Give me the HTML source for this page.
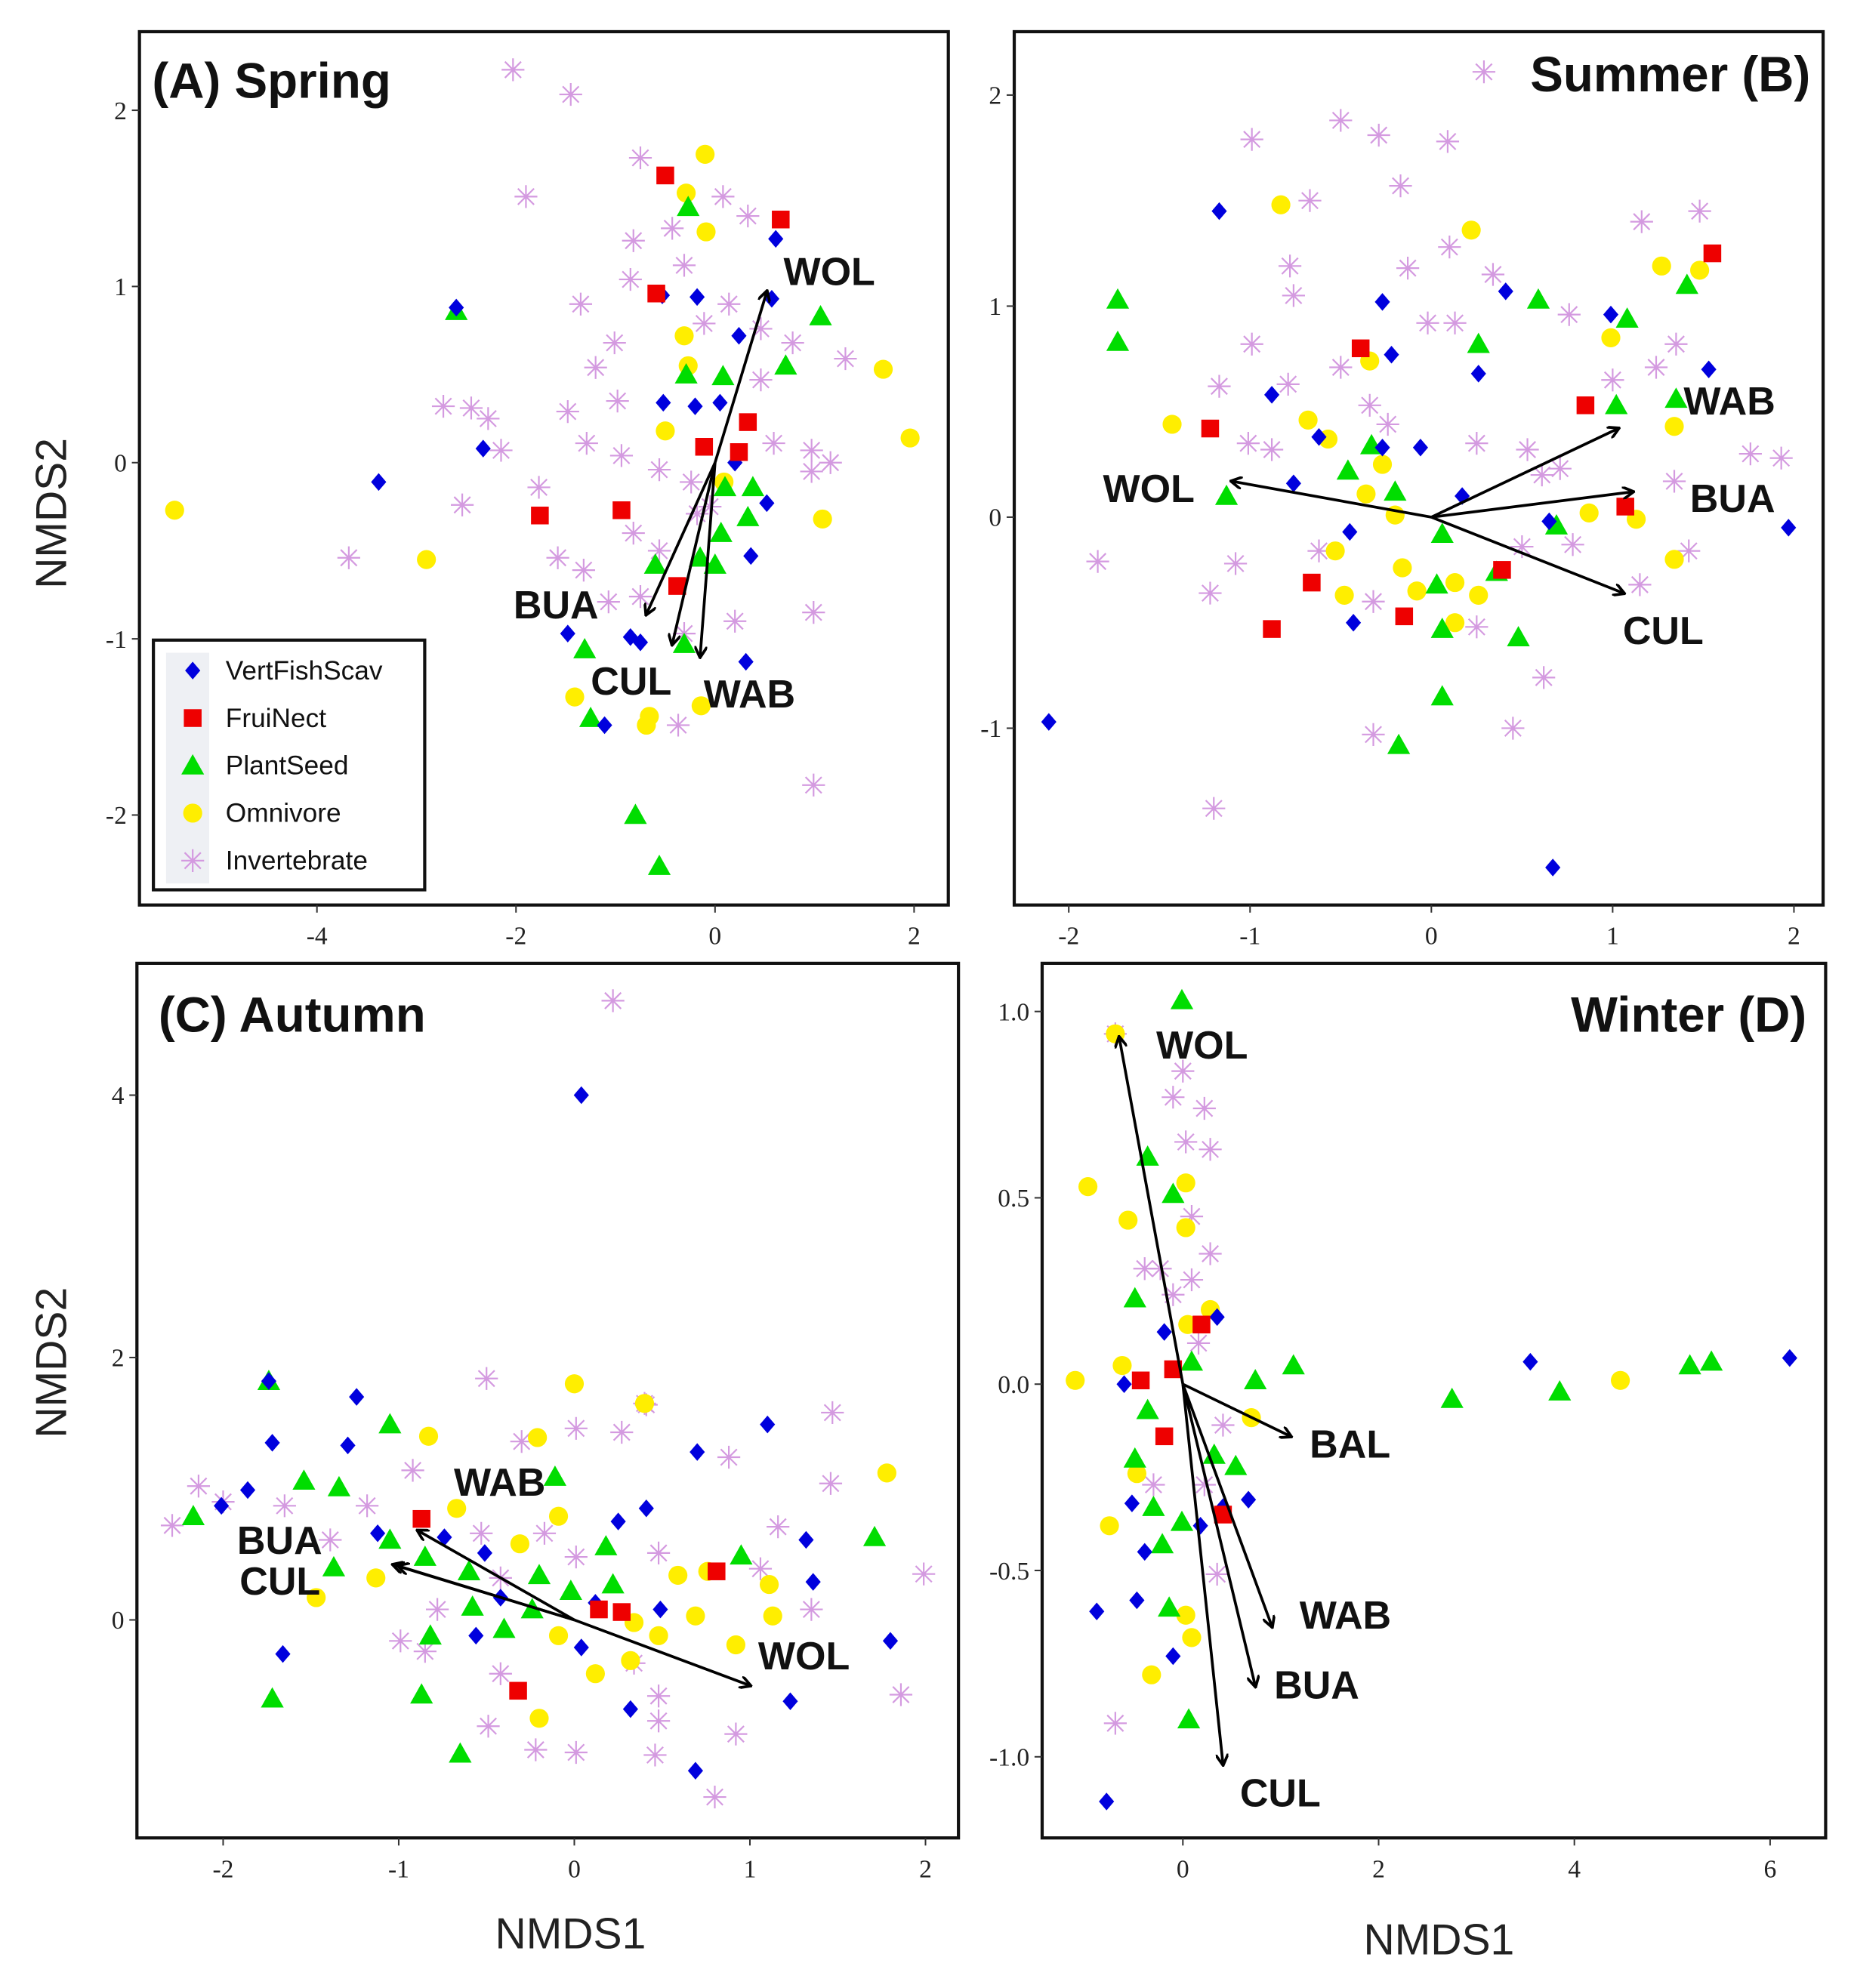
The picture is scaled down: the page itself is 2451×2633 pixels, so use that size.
<!DOCTYPE html>
<html><head><meta charset="utf-8"><style>
html,body{margin:0;padding:0;background:#fff}
svg{display:block}
.tick{font-family:"Liberation Serif",serif;font-size:20px;fill:#222}
.axt{font-family:"Liberation Sans",sans-serif;font-size:34px;fill:#222}
.ttl{font-family:"Liberation Sans",sans-serif;font-size:39px;font-weight:bold;fill:#111}
.vlab{font-family:"Liberation Sans",sans-serif;font-size:31px;font-weight:bold;fill:#111}
.leg{font-family:"Liberation Sans",sans-serif;font-size:21px;fill:#111}
</style></head><body>
<svg id="fig" width="2451" height="2633" viewBox="0 0 1460 1568.4" preserveAspectRatio="none" xmlns="http://www.w3.org/2000/svg"></svg>
<script>
// ---- Panel A (Spring) data ----
const A_vert=[[-2.6,0.88],[-3.38,-0.11],[-2.33,0.08],[0.61,1.27],[-0.53,0.95],[-0.18,0.94],[0.24,0.72],[-0.52,0.34],[-0.2,0.32],[0.05,0.34],[0.2,0],[0.52,-0.23],[0.36,-0.53],[-1.48,-0.97],[-0.85,-0.99],[-0.75,-1.02],[0.31,-1.13],[-1.11,-1.49],[0.57,0.93]];
const A_frui=[[-0.5,1.63],[0.66,1.38],[-0.59,0.96],[-0.11,0.09],[0.24,0.06],[-1.76,-0.3],[-0.94,-0.27],[-0.38,-0.7],[0.33,0.23]];
const A_plant=[[-0.27,1.45],[1.06,0.83],[0.71,0.55],[-0.29,0.5],[0.08,0.49],[0.1,-0.14],[0.38,-0.14],[0.33,-0.31],[0.06,-0.4],[-0.15,-0.54],[-0.6,-0.58],[0,-0.58],[-1.31,-1.06],[-0.31,-1.03],[-0.8,-2],[-0.56,-2.29],[-2.6,0.86],[-1.25,-1.45]];
const A_omni=[[-5.43,-0.27],[-2.9,-0.55],[-0.29,1.53],[-0.09,1.31],[-0.31,0.72],[-0.27,0.55],[-0.5,0.18],[0.09,-0.11],[1.08,-0.32],[1.69,0.53],[1.96,0.14],[-0.66,-1.44],[-0.69,-1.49],[-1.41,-1.33],[-0.14,-1.38],[-0.1,1.75]];
const A_inv=[[-2.03,2.23],[-1.45,2.09],[-1.9,1.51],[-0.75,1.73],[0.08,1.51],[0.33,1.4],[-0.82,1.26],[-0.43,1.33],[-1.35,0.9],[-0.85,1.04],[-0.11,0.79],[0.46,0.76],[0.78,0.68],[1.31,0.59],[-2.73,0.32],[-2.45,0.31],[-2.28,0.25],[-2.15,0.07],[-1.48,0.29],[-0.98,0.35],[-1.29,0.11],[-0.94,0.04],[-0.56,-0.04],[-0.24,-0.11],[0.59,0.11],[0.97,0.07],[1.16,0],[-1.77,-0.14],[-2.54,-0.24],[-1.58,-0.54],[-1.32,-0.61],[-1.07,-0.79],[-0.75,-0.76],[-0.56,-0.5],[-0.18,-0.29],[-0.82,-0.4],[-3.68,-0.54],[-0.31,-0.97],[-0.37,-1.49],[0.99,-0.85],[0.99,-1.83],[0.2,-0.9],[-0.05,-0.25],[0.46,0.47],[-1.2,0.54],[-1.01,0.68],[-0.31,1.12],[0.14,0.9],[0.97,-0.05]];
const A_vecNames=["WOL","BUA","CUL","WAB"];
const A_vecs=[[0.52,0.97],[-0.69,-0.86],[-0.43,-1.03],[-0.15,-1.1]];
const A_xticks=[-4,-2,0,2], A_yticks=[-2,-1,0,1,2];
// ---- Panel B (Summer) data ----
const B_vert=[[-1.17,1.45],[-0.27,1.02],[-0.22,0.77],[0.41,1.07],[0.99,0.96],[0.26,0.68],[-0.88,0.58],[-0.62,0.38],[-0.27,0.33],[-0.06,0.33],[-0.76,0.16],[0.17,0.1],[-0.45,-0.07],[-0.43,-0.5],[0.65,-0.02],[1.53,0.7],[1.97,-0.05],[-2.11,-0.97],[0.67,-1.66]];
const B_frui=[[1.55,1.25],[-0.39,0.8],[-1.22,0.42],[0.85,0.53],[1.07,0.05],[-0.66,-0.31],[-0.88,-0.53],[-0.15,-0.47],[0.39,-0.25]];
const B_plant=[[-1.73,1.03],[-1.73,0.83],[0.26,0.82],[0.59,1.03],[1.08,0.94],[1.41,1.1],[1.02,0.53],[1.35,0.56],[-1.13,0.1],[-0.46,0.22],[-0.33,0.34],[-0.2,0.12],[0.06,-0.08],[0.03,-0.32],[0.06,-0.53],[0.06,-0.85],[-0.18,-1.08],[0.36,-0.26],[0.48,-0.57],[0.69,-0.04]];
const B_omni=[[-0.83,1.48],[0.22,1.36],[1.27,1.19],[1.48,1.17],[0.99,0.85],[-0.34,0.74],[-0.27,0.25],[-1.43,0.44],[-0.68,0.46],[-0.57,0.37],[-0.36,0.11],[-0.2,0.01],[0.87,0.02],[1.13,-0.01],[1.34,0.43],[1.34,-0.2],[-0.53,-0.16],[-0.48,-0.37],[-0.16,-0.24],[-0.08,-0.35],[0.13,-0.31],[0.26,-0.37],[0.13,-0.5]];
const B_inv=[[0.29,2.11],[-0.99,1.79],[-0.5,1.88],[-0.29,1.81],[0.09,1.78],[-0.67,1.5],[-0.17,1.57],[-0.78,1.19],[0.1,1.28],[1.16,1.4],[1.48,1.45],[-0.76,1.05],[-0.13,1.18],[0.34,1.15],[-0.02,0.92],[0.13,0.92],[0.76,0.96],[-0.99,0.82],[-0.79,0.63],[-0.5,0.71],[-0.34,0.53],[-1.17,0.62],[-0.24,0.44],[-1.01,0.35],[-0.88,0.32],[0.25,0.35],[0.53,0.32],[0.71,0.23],[1.0,0.65],[1.24,0.71],[1.35,0.82],[1.76,0.3],[1.93,0.28],[1.34,0.17],[1.42,-0.16],[1.15,-0.32],[0.5,-0.14],[0.61,0.2],[-1.08,-0.22],[-1.22,-0.36],[-1.84,-0.21],[-0.62,-0.16],[-0.32,-0.4],[0.25,-0.52],[0.62,-0.76],[0.45,-1.0],[-0.32,-1.03],[-1.2,-1.38],[0.78,-0.13]];
const B_vecNames=["WOL","WAB","BUA","CUL"];
const B_vecs=[[-1.1,0.17],[1.03,0.42],[1.11,0.12],[1.06,-0.36]];
const B_xticks=[-2,-1,0,1,2], B_yticks=[-1,0,1,2];
// ---- Panel C (Autumn) data ----
const C_vert=[[0.04,4.0],[-1.74,1.82],[-1.24,1.7],[-1.29,1.33],[-1.72,1.35],[-1.86,0.99],[-2.01,0.87],[-1.12,0.66],[-0.74,0.63],[-0.51,0.51],[-1.66,-0.26],[-0.42,0.17],[-0.56,-0.12],[0.04,-0.21],[0.25,0.75],[0.41,0.85],[0.7,1.28],[1.1,1.49],[1.32,0.61],[1.36,0.29],[0.49,0.08],[0.32,-0.68],[0.69,-1.15],[1.23,-0.62],[1.8,-0.16],[0.12,0.13]];
const C_frui=[[-0.87,0.77],[0.81,0.37],[0.14,0.08],[0.27,0.06],[-0.32,-0.54]];
const C_plant=[[-1.74,1.82],[-2.17,0.79],[-1.54,1.06],[-1.34,1.01],[-1.37,0.4],[-1.72,-0.6],[-1.05,1.49],[-1.05,0.61],[-0.85,0.48],[-0.6,0.37],[-0.2,0.34],[-0.11,1.09],[-0.58,0.1],[-0.4,-0.07],[-0.24,0.08],[-0.02,0.22],[0.18,0.56],[0.22,0.27],[-0.82,-0.12],[-0.87,-0.57],[-0.65,-1.02],[0.95,0.49],[1.71,0.63]];
const C_omni=[[0,1.8],[-0.83,1.4],[-0.21,1.39],[-0.67,0.85],[-0.31,0.58],[-1.47,0.17],[-1.13,0.32],[-0.09,0.79],[0.34,-0.02],[0.59,0.34],[0.69,0.03],[0.92,-0.19],[1.11,0.27],[1.13,0.03],[1.78,1.12],[0.12,-0.41],[0.32,-0.31],[-0.2,-0.75],[0.48,-0.12],[0.76,0.37],[-0.09,-0.12],[0.4,1.65]];
const C_inv=[[0.22,4.72],[-0.5,1.84],[-0.3,1.36],[0.01,1.46],[0.27,1.43],[0.41,1.64],[0.88,1.24],[1.47,1.58],[-2.29,0.72],[-2.14,1.02],[-2.0,0.9],[-1.65,0.87],[-1.18,0.87],[-0.92,1.14],[-1.39,0.61],[-0.78,0.08],[-0.99,-0.16],[-0.85,-0.24],[-0.42,-0.41],[-0.49,-0.81],[-0.22,-0.99],[0.01,-1.01],[0.46,-1.03],[0.48,-0.77],[0.8,-1.35],[0.92,-0.87],[0.48,-0.58],[1.46,1.04],[1.86,-0.57],[1.99,0.35],[1.16,0.71],[1.35,0.08],[1.06,0.39],[0.01,0.48],[-0.17,0.66],[0.48,0.51],[-0.42,0.32],[0.34,-0.33],[-0.53,0.66],[0.4,1.65]];
const C_vecNames=["WAB","BUA","CUL","WOL"];
const C_vecs=[[-0.89,0.68],[-1.03,0.42],[-1.0,0.41],[1.0,-0.5]];
const C_xticks=[-2,-1,0,1,2], C_yticks=[0,2,4];
// ---- Panel D (Winter) data ----
const D_vert=[[3.55,0.06],[6.2,0.07],[-0.19,0.14],[-0.6,0],[0.35,0.18],[-0.52,-0.32],[-0.39,-0.45],[-0.47,-0.58],[-0.88,-0.61],[-0.78,-1.12],[-0.1,-0.73],[0.67,-0.31],[0.18,-0.38],[0.41,-0.33]];
const D_frui=[[-0.43,0.01],[-0.1,0.04],[0.19,0.16],[-0.19,-0.14],[0.41,-0.35]];
const D_plant=[[-0.01,1.03],[-0.36,0.61],[-0.1,0.51],[-0.49,0.23],[0.09,0.06],[0.74,0.01],[1.13,0.05],[2.75,-0.04],[3.85,-0.02],[5.18,0.05],[5.4,0.06],[-0.36,-0.07],[-0.49,-0.2],[-0.3,-0.33],[-0.21,-0.43],[-0.01,-0.37],[-0.14,-0.6],[0.06,-0.9],[0.54,-0.22],[0.32,-0.19]];
const D_omni=[[-0.69,0.94],[-0.97,0.53],[-0.56,0.44],[0.03,0.54],[0.03,0.42],[0.28,0.2],[0.05,0.16],[-1.1,0.01],[-0.62,0.05],[4.47,0.01],[-0.47,-0.24],[-0.75,-0.38],[-0.32,-0.78],[0.03,-0.62],[0.09,-0.68],[0.7,-0.09]];
const D_inv=[[0.22,0.74],[0.03,0.65],[0.28,0.63],[0,0.84],[-0.1,0.77],[0.09,0.45],[0.28,0.35],[-0.23,0.31],[-0.1,0.24],[0.16,0.11],[-0.69,-0.91],[0.35,-0.51],[0.22,-0.27],[-0.3,-0.27],[-0.39,0.31],[0.09,0.28],[0.41,-0.11],[-0.69,0.94]];
const D_vecNames=["WOL","BAL","WAB","BUA","CUL"];
const D_vecs=[[-0.65,0.93],[1.1,-0.14],[0.91,-0.65],[0.74,-0.81],[0.41,-1.02]];
const D_xticks=[0,2,4,6], D_yticks=[-1.0,-0.5,0.0,0.5,1.0];

const NS="http://www.w3.org/2000/svg";
const svg=document.getElementById('fig');
function mk(tag,attrs,parent){const e=document.createElementNS(NS,tag);for(const k in attrs)e.setAttribute(k,attrs[k]);(parent||svg).appendChild(e);return e;}
const defs=mk('defs',{});
const mrk=mk('marker',{id:'ah',markerWidth:'10',markerHeight:'10',refX:'8',refY:'5',orient:'auto',markerUnits:'userSpaceOnUse'},defs);
mk('path',{d:'M0,0 L9,5 L0,10',fill:'none',stroke:'#000','stroke-width':'2.2'},mrk);

function marker(g,type,x,y){
  let e;
  if(type==='vert'){e=mk('path',{d:`M${x},${y-7}L${x+6},${y}L${x},${y+7}L${x-6},${y}Z`,fill:'#0000dd'},g);}
  else if(type==='frui'){e=mk('rect',{x:x-7,y:y-7,width:14,height:14,fill:'#ee0000'},g);}
  else if(type==='plant'){e=mk('path',{d:`M${x},${y-9}L${x+9},${y+7}L${x-9},${y+7}Z`,fill:'#00dd00'},g);}
  else if(type==='omni'){e=mk('circle',{cx:x,cy:y,r:7.5,fill:'#ffee00'},g);}
  else {let d='';for(let i=0;i<4;i++){const a=i*Math.PI/4;const dx=9*Math.cos(a),dy=9*Math.sin(a);d+=`M${x-dx},${y-dy}L${x+dx},${y+dy}`;}
    e=mk('path',{d:d,stroke:'#d49ae0','stroke-width':'1.3',fill:'none'},g);}
  return e;
}

function panel(cfg){
  const g=mk('g',{});
  
  
  const sx=v=>cfg.x0+v*cfg.kx, sy=v=>cfg.y0-v*cfg.ky;
  const series=[['inv',cfg.inv],['omni',cfg.omni],['plant',cfg.plant],['vert',cfg.vert],['frui',cfg.frui]];
  series.forEach(([t,arr])=>arr.forEach(p=>{const e=marker(g,t,sx(p[0]),sy(p[1]));
    
    }));
  cfg.vecs.forEach((v,i)=>{const l=mk('line',{x1:sx(0),y1:sy(0),x2:sx(v[0]),y2:sy(v[1]),stroke:'#000','stroke-width':'2.2','marker-end':'url(#ah)'},g);
    
    
    const lp=cfg.labPos[i];
    const t=mk('text',{x:lp[0],y:lp[1],class:'vlab'},g);t.textContent=cfg.vecNames[i];
    
    });
  const b=cfg.box;
  const r=mk('rect',{x:b[0],y:b[1],width:b[2]-b[0],height:b[3]-b[1],fill:'none',stroke:'#111','stroke-width':'2.5'},g);
  
  
  cfg.xticks.forEach(v=>{const x=sx(v);mk('line',{x1:x,y1:b[3],x2:x,y2:b[3]+6,stroke:'#333','stroke-width':'1.2'},g);
    const t=mk('text',{x:x,y:b[3]+31,class:'tick','text-anchor':'middle'},g);t.textContent=String(v);
    
    });
  cfg.yticks.forEach(v=>{const y=sy(v);mk('line',{x1:b[0]-6,y1:y,x2:b[0],y2:y,stroke:'#333','stroke-width':'1.2'},g);
    const t=mk('text',{x:b[0]-10,y:y+7,class:'tick','text-anchor':'end'},g);t.textContent=cfg.fmt(v);
    
    });
  const tt=mk('text',{x:cfg.title[1],y:cfg.title[2],class:'ttl','text-anchor':cfg.title[3]},g);tt.textContent=cfg.title[0];
  
  
}
const fi=v=>String(v), f1=v=>v.toFixed(1);
panel({name:'panel-a-spring',x0:564,y0:365,kx:78.5,ky:139,box:[110,25,748,714],vert:A_vert,frui:A_frui,plant:A_plant,omni:A_omni,inv:A_inv,vecs:A_vecs,vecNames:A_vecNames,labPos:[[405,488],[405,488],[466,548],[555,558]].map((p,i)=>i===0?[618,225]:p),xticks:A_xticks,yticks:A_yticks,fmt:fi,title:['(A) Spring',120,77,'start']});
panel({name:'panel-b-summer',x0:1129,y0:408,kx:143,ky:166.5,box:[800,25,1438,714],vert:B_vert,frui:B_frui,plant:B_plant,omni:B_omni,inv:B_inv,vecs:B_vecs,vecNames:B_vecNames,labPos:[[870,396],[1328,327],[1333,404],[1280,508]],xticks:B_xticks,yticks:B_yticks,fmt:fi,title:['Summer (B)',1428,72,'end']});
panel({name:'panel-c-autumn',x0:453,y0:1278,kx:138.5,ky:103.5,box:[108,760,756,1450],vert:C_vert,frui:C_frui,plant:C_plant,omni:C_omni,inv:C_inv,vecs:C_vecs,vecNames:C_vecNames,labPos:[[358,1180],[187,1226],[189,1258],[598,1317]],xticks:C_xticks,yticks:C_yticks,fmt:fi,title:['(C)  Autumn',125,814,'start']});
panel({name:'panel-d-winter',x0:933,y0:1092,kx:77.2,ky:294,box:[822,760,1440,1450],vert:D_vert,frui:D_frui,plant:D_plant,omni:D_omni,inv:D_inv,vecs:D_vecs,vecNames:D_vecNames,labPos:[[912,835],[1033,1150],[1025,1285],[1005,1340],[978,1425]],xticks:D_xticks,yticks:D_yticks,fmt:f1,title:['Winter (D)',1425,814,'end']});

// axis titles
[['NMDS2',52,405,true],['NMDS2',52,1075,true],['NMDS1',450,1537,false],['NMDS1',1135,1542,false]].forEach(a=>{
  const t=mk('text',{x:a[1],y:a[2],class:'axt','text-anchor':'middle',transform:a[3]?`rotate(-90 ${a[1]} ${a[2]})`:''});
  t.textContent=a[0];
  
  });

// legend
const lg=mk('g',{});


mk('rect',{x:121,y:505,width:214,height:197,fill:'#fff',stroke:'#111','stroke-width':'2.5'},lg);
mk('rect',{x:131,y:515,width:34,height:182,fill:'#eef0f4'},lg);
const legNames=['VertFishScav','FruiNect','PlantSeed','Omnivore','Invertebrate'];
const legTypes=['vert','frui','plant','omni','inv'];
legNames.forEach((n,i)=>{const y=529+i*37.5;
  const m=marker(lg,legTypes[i],152,y);
  
  
  const t=mk('text',{x:178,y:y+7,class:'leg'},lg);t.textContent=n;
  
  });
</script>
</body></html>
